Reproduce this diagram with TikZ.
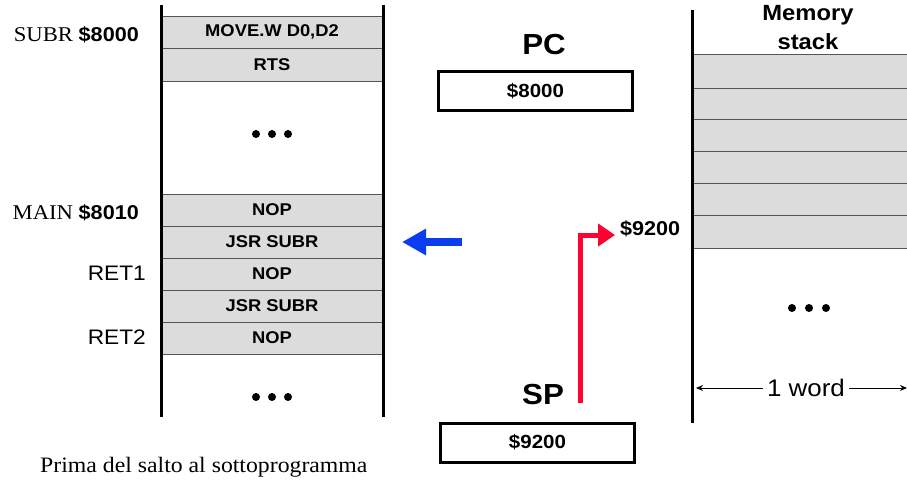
\documentclass[tikz,border=0pt]{standalone}
\usepackage{fontspec}
\setmainfont[FakeStretch=1.08]{Liberation Serif}
\newfontfamily\hv[FakeStretch=1.08]{Liberation Sans}
\usetikzlibrary{arrows.meta}
\definecolor{cellgray}{HTML}{DCDCDC}
\definecolor{linegray}{HTML}{555555}
\definecolor{redarr}{HTML}{FF0033}
\definecolor{bluearr}{HTML}{0A3CF0}
\tikzset{
  cell/.style={draw=linegray, line width=1pt, fill=cellgray, minimum width=222pt, minimum height=32pt, inner sep=0pt, font=\hv\bfseries\fontsize{17}{17}\selectfont},
  scell/.style={draw=linegray, line width=1pt, fill=cellgray, minimum width=215pt, inner sep=0pt},
  bar/.style={line width=3pt, black},
  reg/.style={draw=black, line width=3pt, minimum width=194pt, minimum height=39pt, inner sep=0pt, font=\hv\bfseries\fontsize{19}{19}\selectfont},
  big/.style={font=\hv\bfseries\fontsize{29}{29}\selectfont, inner sep=0pt},
  addr/.style={font=\fontsize{21}{21}\selectfont, inner sep=0pt, anchor=base east},
  retl/.style={font=\hv\fontsize{21}{21}\selectfont, inner sep=0pt, anchor=base east},
  dot/.style={circle, fill=black, inner sep=0pt, minimum size=8pt},
}
\begin{document}
\begin{tikzpicture}[x=1pt,y=-1pt]
\useasboundingbox (0,0) rectangle (907,482);
% left memory column
\node[cell, minimum height=32pt] (c1) at (272,32) {MOVE.W D0,D2};
\node[cell, minimum height=33pt] (c2) at (272,64.5) {RTS};
\node[cell] (c3) at (272,210) {NOP};
\node[cell] (c4) at (272,242) {JSR SUBR};
\node[cell] (c5) at (272,274) {NOP};
\node[cell] (c6) at (272,306) {JSR SUBR};
\node[cell] (c7) at (272,338) {NOP};
\draw[bar] (161,5) coordinate (lt) -- (161,417) coordinate (lb);
\draw[bar] (383,5) coordinate (rt) -- (383,417) coordinate (rb);
\foreach \x [count=\i] in {256,272,288} {
  \node[dot] (ua\i) at (\x,134) {};
  \node[dot] (ub\i) at (\x,397) {};
}
% address labels
\node[addr] (subr) at (139,41) {SUBR {\hv\bfseries\fontsize{20}{20}\selectfont \$8000}};
\node[addr] (main) at (139,219) {MAIN {\hv\bfseries\fontsize{20}{20}\selectfont \$8010}};
\node[retl] (ret1) at (146,280) {RET1};
\node[retl] (ret2) at (146,344) {RET2};
% registers
\node[big] (pc) at (544,45) {PC};
\node[reg] (pcbox) at (535.5,91) {\$8000};
\node[big] (sp) at (543,395) {SP};
\node[reg] (spbox) at (537.5,442.5) {\$9200};
% arrows
\coordinate (bs) at (462,242);
\coordinate (be) at (402,242);
\draw[bluearr, line width=8pt, -{Triangle[length=24pt,width=25pt]}] (bs) -- (be);
\coordinate (rs) at (580,403);
\coordinate (rc) at (580,235);
\coordinate (re) at (615,235);
\draw[redarr, line width=5pt, miter limit=10, -{Triangle[length=17pt,width=22pt]}] (rs) -- (rc) -- (re);
\node[font=\hv\bfseries\fontsize{20}{20}\selectfont, inner sep=0pt, anchor=west] (t9200) at (620,229) {\$9200};
% memory stack
\node[font=\hv\bfseries\fontsize{22}{22}\selectfont, inner sep=0pt] (mem) at (808,15) {Memory};
\node[font=\hv\bfseries\fontsize{22}{22}\selectfont, inner sep=0pt] (stk) at (808,42) {stack};
\node[scell, minimum height=34pt] (s1) at (799.5,71) {};
\node[scell, minimum height=31pt] (s2) at (799.5,103.5) {};
\node[scell, minimum height=32pt] (s3) at (799.5,135) {};
\node[scell, minimum height=32pt] (s4) at (799.5,167) {};
\node[scell, minimum height=32pt] (s5) at (799.5,199) {};
\node[scell, minimum height=33pt] (s6) at (799.5,231.5) {};
\draw[bar] (692,10) coordinate (mt) -- (692,423) coordinate (mb);
\foreach \x [count=\i] in {792,809,826} {
  \node[dot] (md\i) at (\x,308) {};
}
\node[font=\hv\fontsize{24}{24}\selectfont, inner sep=4pt] (word) at (806,388) {1 word};
\coordinate (wl) at (696,388);
\coordinate (wr) at (907,388);
\draw[line width=1pt, -{Stealth[length=7pt,width=6pt]}] (word.west) -- (wl);
\draw[line width=1pt, -{Stealth[length=7pt,width=6pt]}] (word.east) -- (wr);
% caption
\node[font=\fontsize{22}{22}\selectfont, inner sep=0pt, anchor=base west] (cap) at (40,472) {Prima del salto al sottoprogramma};
\end{tikzpicture}
\end{document}
